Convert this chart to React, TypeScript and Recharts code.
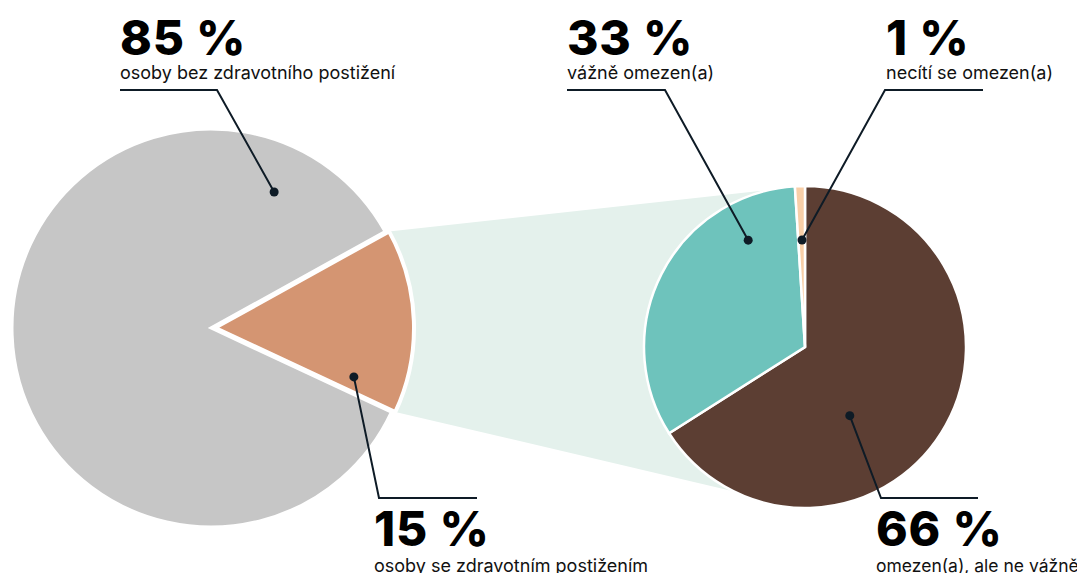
import React from "react";
import { PieChart, Pie, Cell } from "recharts";

// ---- data ----
const leftNames = ["osoby se zdravotním postižením", "osoby bez zdravotního postižení"];
const leftValues = [15, 85];
const rightNames = ["omezen(a), ale ne vážně", "vážně omezen(a)", "necítí se omezen(a)"];
const rightValues = [66, 33, 1];
const valueSuffix = " %";

// ---- styles / layout ----
const W = 1077;
const H = 573;
const L = { cx: 211, cy: 328, r: 199, start: -25, explode: 4 };
const R = { cx: 805, cy: 347, r: 161, start: 90 };
const leftColors = ["#d49572", "#c6c6c6"];
const rightColors = ["#5c3e33", "#6ec3bc", "#f8cfa8"];
const bridgeColor = "#e4f1ec";
const ink = "#0e1b26";
const FONT = "Inter, 'Noto Sans', sans-serif";

// label layout: dot polar (r, angle deg) relative to pie centre; elbow, line end, text anchor
type Lay = { dr: number; da: number; ex: number; ey: number; endX: number; tx: number; vy: number; sy: number; fs: number };
const leftLayout: Lay[] = [
  { dr: 151, da: -18.9, ex: 379, ey: 498, endX: 477, tx: 374, vy: 546, sy: 572, fs: 18 },
  { dr: 150, da: 65.1, ex: 217, ey: 90, endX: 120, tx: 120, vy: 55, sy: 79, fs: 18 },
];
const rightLayout: Lay[] = [
  { dr: 82, da: -56.9, ex: 881, ey: 498, endX: 978, tx: 876, vy: 546, sy: 572, fs: 17.5 },
  { dr: 121, da: 118, ex: 665, ey: 90, endX: 567, tx: 567, vy: 55, sy: 79, fs: 18 },
  { dr: 107, da: 91.6, ex: 885, ey: 90, endX: 983, tx: 886, vy: 55, sy: 79, fs: 18 },
];

const leftData = leftNames.map((name, i) => ({ name, value: leftValues[i] }));
const rightData = rightNames.map((name, i) => ({ name, value: rightValues[i] }));

const rad = (d: number) => (d * Math.PI) / 180;
const leftTotal = leftValues.reduce((a, b) => a + b, 0);
const orangeSweep = (leftValues[0] / leftTotal) * 360;
const orangeMid = L.start + orangeSweep / 2;
const oCx = L.cx + L.explode * Math.cos(rad(orangeMid));
const oCy = L.cy - L.explode * Math.sin(rad(orangeMid));

function renderAnnotation(lay: Lay, value: number, name: string, cx: number, cy: number) {
  const dx = cx + lay.dr * Math.cos(rad(lay.da));
  const dy = cy - lay.dr * Math.sin(rad(lay.da));
  return (
    <g>
      <polyline
        points={`${dx},${dy} ${lay.ex},${lay.ey} ${lay.endX},${lay.ey}`}
        fill="none"
        stroke={ink}
        strokeWidth={2}
      />
      <circle cx={dx} cy={dy} r={4.5} fill={ink} />
      <text x={lay.tx} y={lay.vy} fontFamily={FONT} fontWeight={800} fontSize={48} letterSpacing={0.8} fill="#000">
        {value + valueSuffix}
      </text>
      <text x={lay.tx} y={lay.sy} fontFamily={FONT} fontWeight={400} fontSize={lay.fs} fill="#111">
        {name}
      </text>
    </g>
  );
}

const makeLabel = (layout: Lay[], only: number | null, baseCx: number, baseCy: number) => (props: any) => {
  const i = props.index;
  if (only !== null && i !== only) return null;
  const d = props.payload && props.payload.payload ? props.payload.payload : props.payload;
  const value = d?.value ?? props.value;
  const name = d?.name ?? props.name;
  return renderAnnotation(layout[i], value, name, baseCx, baseCy);
};

export default function App() {
  // bridge polygon from the exploded slice's outer corners to the top/bottom of the right pie
  const oR = L.r;
  const a1 = rad(L.start + orangeSweep);
  const a0 = rad(L.start);
  const p1 = [oCx + oR * Math.cos(a1), oCy - oR * Math.sin(a1)];
  const p0 = [oCx + oR * Math.cos(a0), oCy - oR * Math.sin(a0)];
  const bridge = `${p1[0]},${p1[1]} ${R.cx},${R.cy - R.r} ${R.cx},${R.cy + R.r} ${p0[0]},${p0[1]}`;

  return (
    <div style={{ position: "absolute", left: 0, top: 0, width: W, height: H, background: "#fff", overflow: "hidden" }}>
      <svg width={W} height={H} style={{ position: "absolute", left: 0, top: 0 }}>
        <polygon points={bridge} fill={bridgeColor} />
      </svg>
      <div style={{ position: "absolute", left: 0, top: 0 }}>
        <PieChart width={W} height={H} margin={{ top: 0, right: 0, bottom: 0, left: 0 }}>
          <Pie
            data={leftData}
            dataKey="value"
            cx={L.cx}
            cy={L.cy}
            outerRadius={L.r}
            startAngle={L.start}
            endAngle={L.start + 360}
            isAnimationActive={false}
            labelLine={false}
            label={makeLabel(leftLayout, 1, L.cx, L.cy)}
          >
            {leftData.map((d, i) => (
              <Cell
                key={d.name}
                fill={i === 1 ? leftColors[1] : "transparent"}
                stroke={i === 1 ? "#fff" : "none"}
                strokeWidth={3}
              />
            ))}
          </Pie>
          <Pie
            data={leftData}
            dataKey="value"
            cx={oCx}
            cy={oCy}
            outerRadius={L.r}
            startAngle={L.start}
            endAngle={L.start + 360}
            isAnimationActive={false}
            labelLine={false}
            label={makeLabel(leftLayout, 0, L.cx, L.cy)}
          >
            {leftData.map((d, i) => (
              <Cell
                key={d.name}
                fill={i === 0 ? leftColors[0] : "transparent"}
                stroke={i === 0 ? "#fff" : "none"}
                strokeWidth={4}
              />
            ))}
          </Pie>
          <Pie
            data={rightData}
            dataKey="value"
            cx={R.cx}
            cy={R.cy}
            outerRadius={R.r}
            startAngle={R.start}
            endAngle={R.start - 360}
            isAnimationActive={false}
            labelLine={false}
            label={makeLabel(rightLayout, null, R.cx, R.cy)}
          >
            {rightData.map((d, i) => (
              <Cell key={d.name} fill={rightColors[i]} stroke="#fff" strokeWidth={2.5} />
            ))}
          </Pie>
        </PieChart>
      </div>
    </div>
  );
}
